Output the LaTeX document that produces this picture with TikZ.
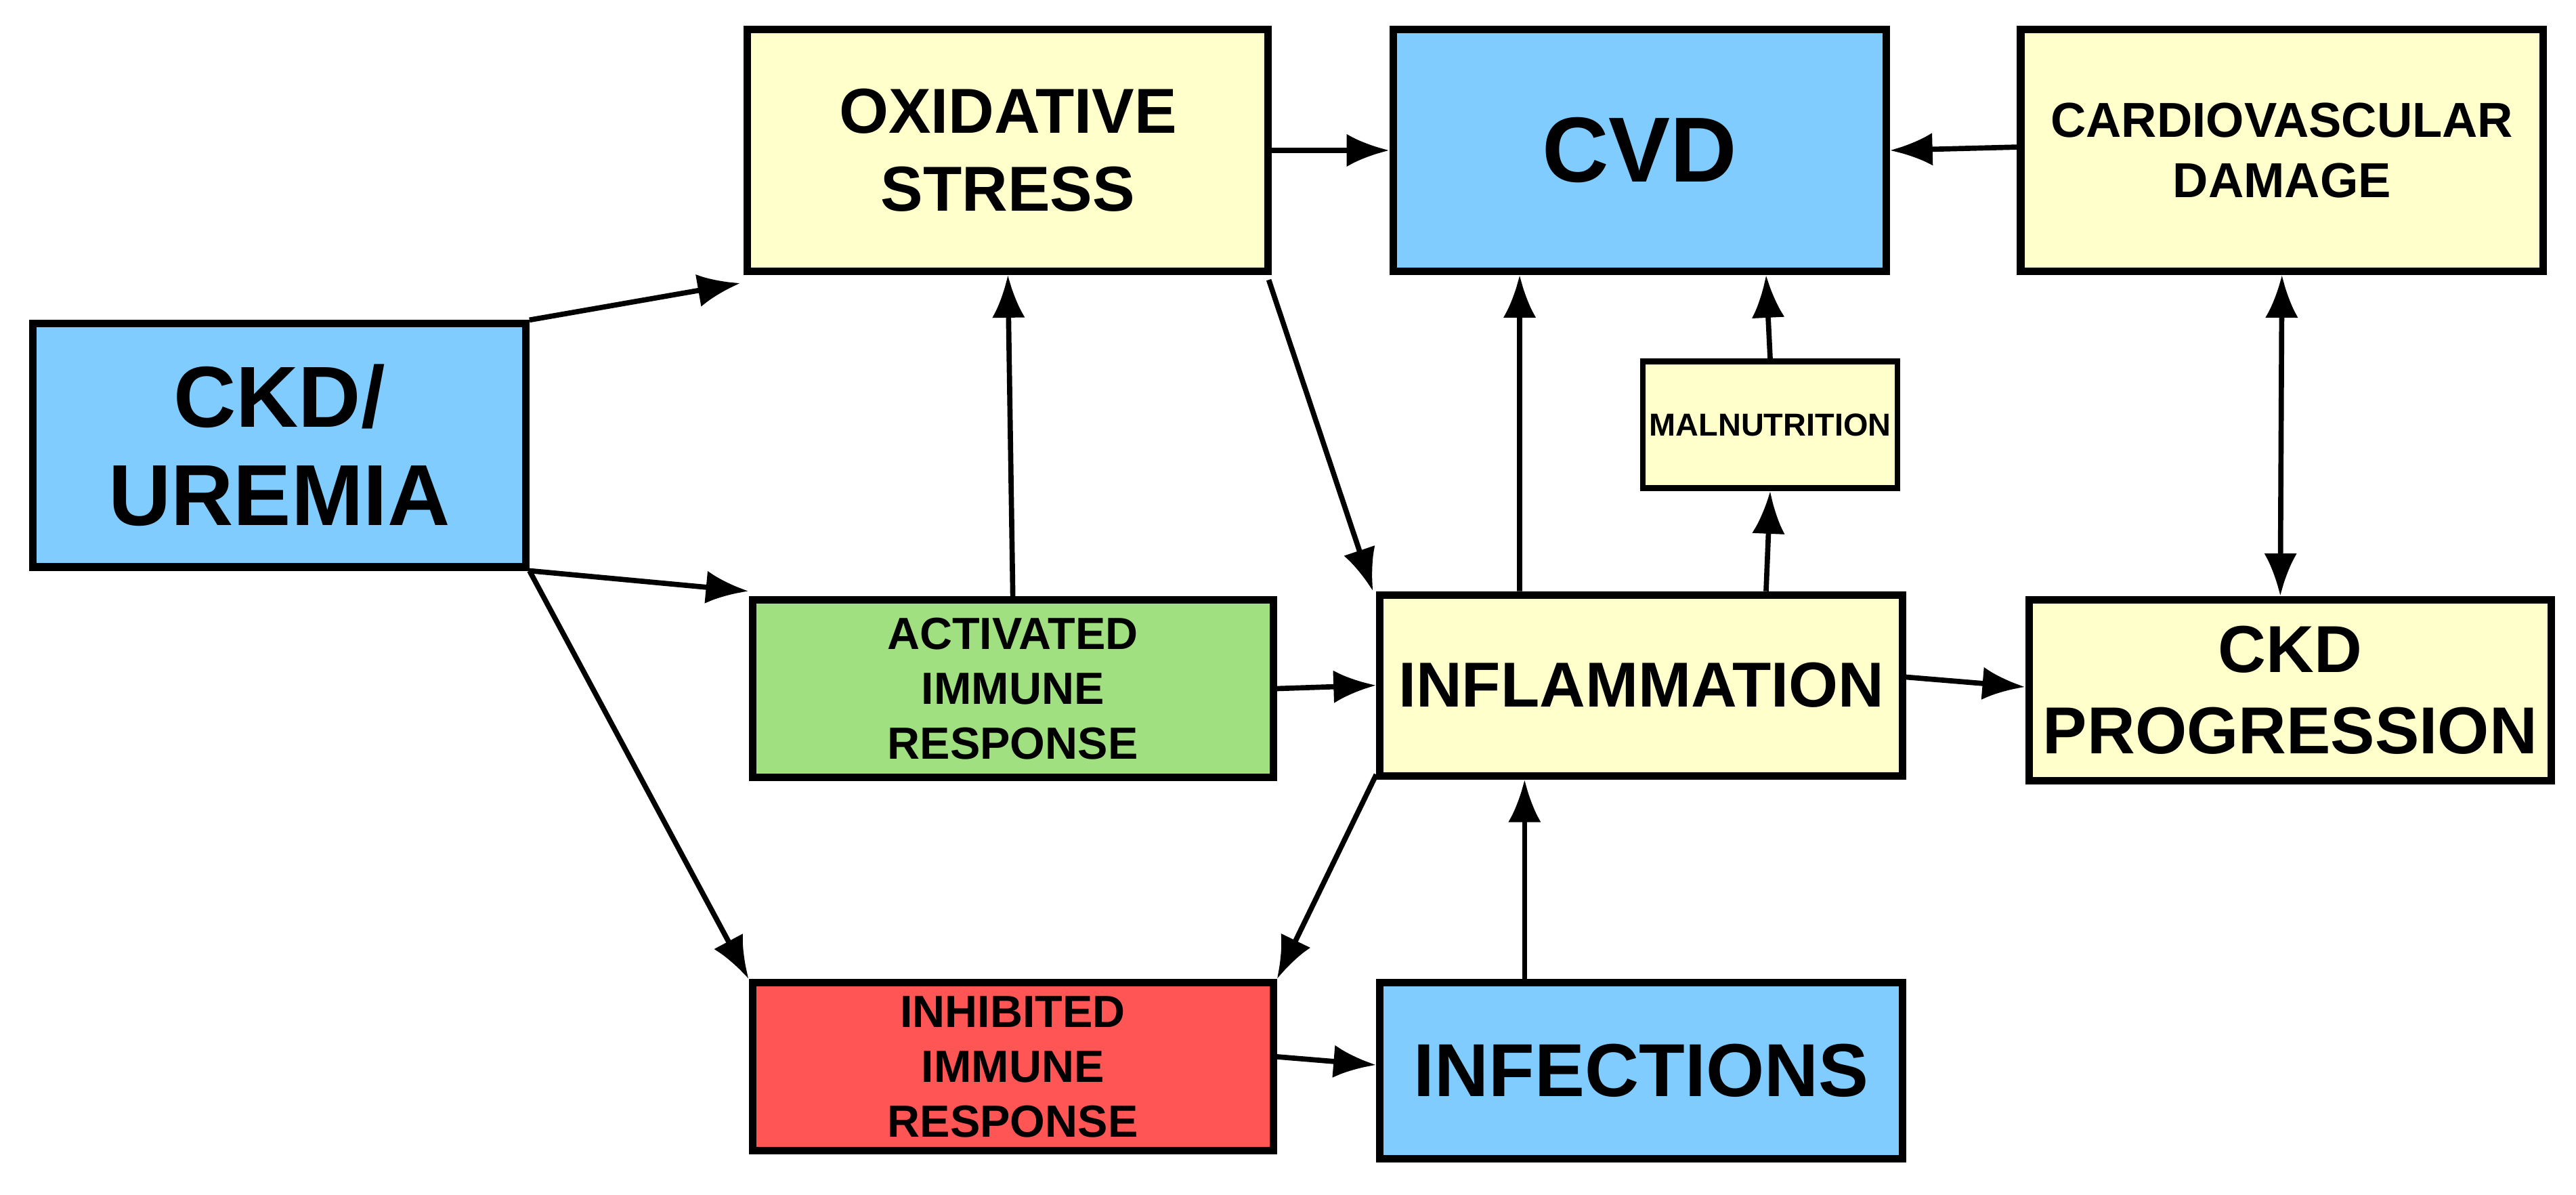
\documentclass[tikz,border=0pt]{standalone}
\usepackage{fontspec}
\setmainfont{Liberation Sans}
\usetikzlibrary{arrows.meta}
\definecolor{cblue}{HTML}{80CCFF}
\definecolor{cyel}{HTML}{FFFFCC}
\definecolor{cgreen}{HTML}{A0E080}
\definecolor{cred}{HTML}{FF5555}
\begin{document}
\begin{tikzpicture}[x=0.1mm,y=-0.1mm,
 box/.style={draw=black,line width=1.3pt,inner sep=0pt,align=center,font=\bfseries},
 arr/.style={line width=0.9pt,-{Latex[length=2.6mm,width=2mm]}}]
\useasboundingbox (0,0) rectangle (1568,727);
\node[box,fill=cblue,minimum width=30mm,minimum height=14.8mm,font=\bfseries\fontsize{15}{17}\selectfont] (ckd) at (170,271) {CKD/\\UREMIA};
\node[box,fill=cyel,minimum width=31.7mm,minimum height=14.7mm,font=\bfseries\fontsize{11}{13.5}\selectfont] (ox) at (613.5,91.5) {OXIDATIVE\\STRESS};
\node[box,fill=cblue,minimum width=30mm,minimum height=14.7mm,font=\bfseries\fontsize{16}{18}\selectfont] (cvd) at (998,91.5) {CVD};
\node[box,fill=cyel,minimum width=31.8mm,minimum height=14.7mm,font=\bfseries\fontsize{8.5}{10.5}\selectfont] (cd) at (1389,91.5) {CARDIOVASCULAR\\DAMAGE};
\node[box,fill=cyel,minimum width=15.5mm,minimum height=7.7mm,line width=1pt,font=\bfseries\fontsize{5.5}{6.5}\selectfont] (mal) at (1077.5,258.5) {MALNUTRITION};
\node[box,fill=cgreen,minimum width=31.7mm,minimum height=10.8mm,font=\bfseries\fontsize{7.8}{9.5}\selectfont] (act) at (616.5,419) {ACTIVATED\\IMMUNE\\RESPONSE};
\node[box,fill=cyel,minimum width=31.8mm,minimum height=11mm,font=\bfseries\fontsize{11}{13}\selectfont] (inf) at (999,417) {INFLAMMATION};
\node[box,fill=cyel,minimum width=31.8mm,minimum height=11mm,font=\bfseries\fontsize{11.5}{14}\selectfont] (prog) at (1394,420) {CKD\\PROGRESSION};
\node[box,fill=cred,minimum width=31.7mm,minimum height=10.2mm,font=\bfseries\fontsize{7.8}{9.5}\selectfont] (inh) at (616.5,649) {INHIBITED\\IMMUNE\\RESPONSE};
\node[box,fill=cblue,minimum width=31.8mm,minimum height=10.7mm,font=\bfseries\fontsize{13}{15}\selectfont] (infc) at (999,651.5) {INFECTIONS};
\draw[arr] (ckd.north east) -- ([xshift=-0.2mm,yshift=-0.5mm]ox.south west);
\draw[arr] (ckd.south east) -- ([yshift=0.3mm]act.north west);
\draw[arr] (ckd.south east) -- (inh.north west);
\draw[arr] (act.north) -- (ox.south);
\draw[arr] (ox.east) -- (cvd.west);
\draw[arr] ([xshift=-0.2mm,yshift=-0.3mm]ox.south east) -- ([xshift=-0.2mm]inf.north west);
\draw[arr] (act.east) -- (inf.west);
\draw[arr] ([xshift=-7.4mm]inf.north) -- ([xshift=-7.3mm]cvd.south);
\draw[arr] ([xshift=7.6mm]inf.north) -- (mal.south);
\draw[arr] (mal.north) -- ([xshift=7.7mm]cvd.south);
\draw[arr] ([yshift=0.2mm]cd.west) -- (cvd.east);
\draw[line width=0.9pt,{Latex[length=2.6mm,width=2mm]}-{Latex[length=2.6mm,width=2mm]}] (cd.south) -- ([xshift=-0.6mm]prog.north);
\draw[arr] ([yshift=0.5mm]inf.east) -- ([yshift=0.2mm]prog.west);
\draw[arr] ([yshift=0.3mm]inf.south west) -- (inh.north east);
\draw[arr] ([xshift=-7.1mm]infc.north) -- ([xshift=-7.1mm]inf.south);
\draw[arr] ([yshift=0.6mm]inh.east) -- ([yshift=0.35mm]infc.west);
\end{tikzpicture}
\end{document}
